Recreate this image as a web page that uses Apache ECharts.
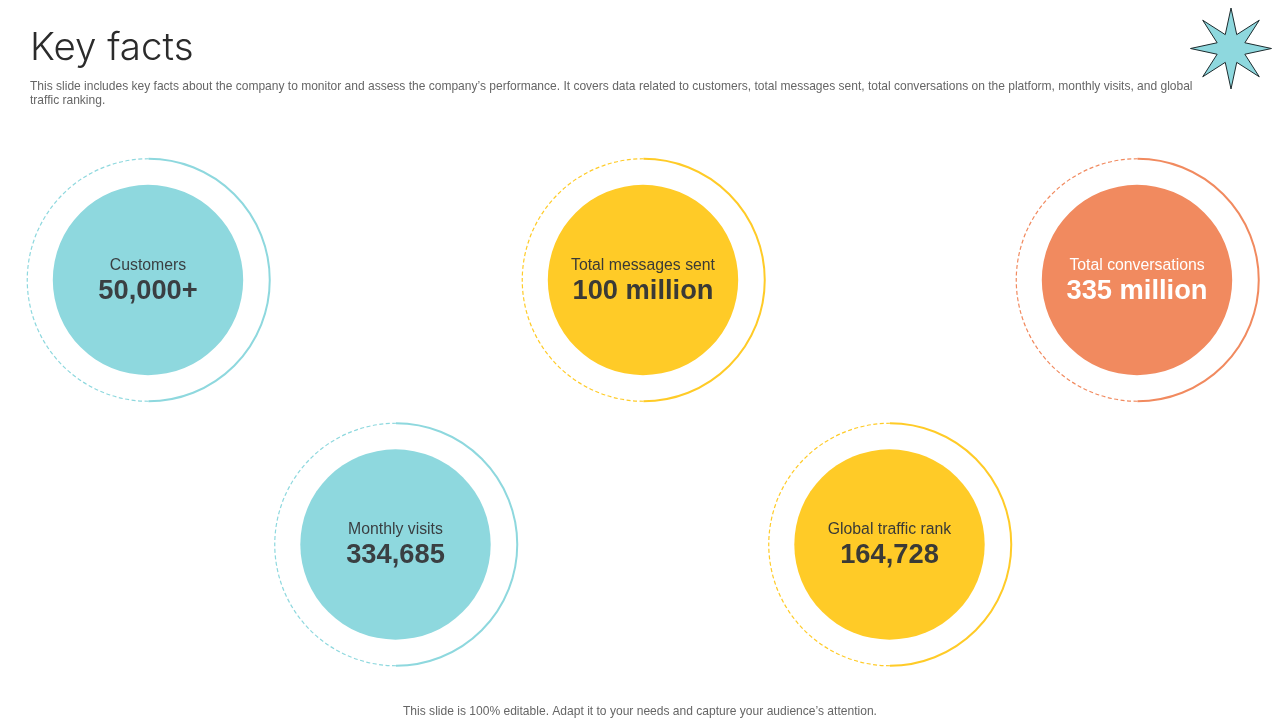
<!DOCTYPE html>
<html>
<head>
<meta charset="utf-8">
<title>Key facts</title>
<script src="https://cdn.jsdelivr.net/npm/echarts@6/dist/echarts.min.js"></script>
<style>
  html, body { margin: 0; padding: 0; background: #fff; }
  #chart { width: 1280px; height: 720px; }
</style>
</head>
<body>
<div id="chart"></div>
<script>
// data
var factNames = ['Customers', 'Total messages sent', 'Total conversations', 'Monthly visits', 'Global traffic rank'];
var factValues = ['50,000+', '100 million', '335 million', '334,685', '164,728'];

var titleText = 'Key facts';
var introLines = [
  'This slide includes key facts about the company to monitor and assess the company\u2019s performance. It covers data related to customers, total messages sent, total conversations on the platform, monthly visits, and global',
  'traffic ranking.'
];
var footerText = 'This slide is 100% editable. Adapt it to your needs and capture your audience\u2019s attention.';

// layout and colours
var centers = [[148, 280], [643, 280], [1137, 280], [395.5, 544.5], [889.5, 544.5]];
var fillColors = ['#8ed8de', '#ffcb27', '#f18a5f', '#8ed8de', '#ffcb27'];
var textColors = ['#3a3f42', '#3a3a36', '#ffffff', '#3a3f42', '#3a3a36'];
var discRadius = 95.2;
var ringRadius = 121.25;

var series = factNames.map(function (name, i) {
    return {
        type: 'pie',
        silent: true,
        center: centers[i],
        radius: [0, discRadius],
        animation: false,
        labelLine: { show: false },
        data: [{ name: name, value: 1, itemStyle: { color: fillColors[i] } }],
        label: {
            position: 'center',
            offset: [0, -1],
            formatter: '{a|' + name + '}\n{b|' + factValues[i] + '}',
            rich: {
                a: { fontFamily: 'Liberation Sans', fontSize: 15.8, lineHeight: 24, color: textColors[i] },
                b: { fontFamily: 'Liberation Sans', fontSize: 27.3, fontWeight: 'bold', lineHeight: 27, color: textColors[i] }
            }
        }
    };
});

var graphics = [];

// solid right half and dashed left half of each ring
centers.forEach(function (c, i) {
    graphics.push({
        type: 'arc', silent: true,
        shape: { cx: c[0] + 0.5, cy: c[1], r: ringRadius, startAngle: -Math.PI / 2, endAngle: Math.PI / 2, clockwise: true },
        style: { stroke: fillColors[i], lineWidth: 2, fill: null }
    });
    graphics.push({
        type: 'arc', silent: true,
        shape: { cx: c[0] + 0.5, cy: c[1], r: ringRadius, startAngle: Math.PI / 2, endAngle: Math.PI * 1.5, clockwise: true },
        style: { stroke: fillColors[i], lineWidth: 1.2, lineDash: [4, 2.5], fill: null }
    });
});

// eight pointed star in the corner
var starPoints = [];
var starCx = 1231, starCy = 48.5;
for (var k = 0; k < 16; k++) {
    var ang = -Math.PI / 2 + k * Math.PI / 8;
    var r = k % 2 === 1 ? 15 : (k % 4 === 0 ? 40.5 : 40);
    starPoints.push([starCx + r * Math.cos(ang), starCy + r * Math.sin(ang)]);
}
graphics.push({
    type: 'polygon', silent: true,
    shape: { points: starPoints },
    style: { fill: '#8ed8de', stroke: '#1d2b2e', lineWidth: 1 }
});

graphics.push({
    type: 'text', silent: true, left: 30, top: 29,
    style: { text: titleText, fontFamily: 'Inter', fontWeight: 300, fontSize: 38.5, fill: '#2b2b2b' }
});
introLines.forEach(function (line, i) {
    graphics.push({
        type: 'text', silent: true, left: 30, top: 81 + i * 14,
        style: { text: line, fontFamily: 'Liberation Sans', fontSize: 12.02, fill: '#666666' }
    });
});
graphics.push({
    type: 'text', silent: true, left: 403, top: 705.5,
    style: { text: footerText, fontFamily: 'Liberation Sans', fontSize: 12.05, fill: '#666666' }
});

var chart = echarts.init(document.getElementById('chart'), null, { renderer: 'canvas' });
chart.setOption({
    animation: false,
    backgroundColor: '#ffffff',
    series: series,
    graphic: { elements: graphics }
});
</script>
</body>
</html>
